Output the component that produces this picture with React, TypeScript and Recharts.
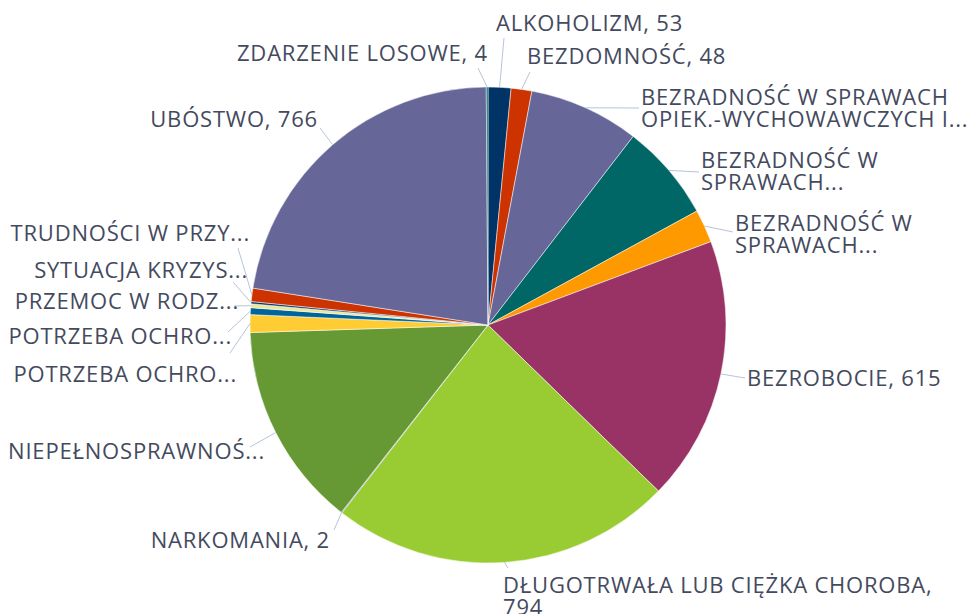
import React from 'react'
import { Cell, Pie, PieChart } from 'recharts'

// Kolejność kategorii zgodna z wykresem (zgodnie z ruchem wskazówek zegara od góry)
const categories = [
  'ALKOHOLIZM',
  'BEZDOMNOŚĆ',
  'BEZRADNOŚĆ W SPRAWACH OPIEK.-WYCHOWAWCZYCH I...',
  'BEZRADNOŚĆ W SPRAWACH... (1)',
  'BEZRADNOŚĆ W SPRAWACH... (2)',
  'BEZROBOCIE',
  'DŁUGOTRWAŁA LUB CIĘŻKA CHOROBA',
  'NARKOMANIA',
  'NIEPEŁNOSPRAWNOŚĆ',
  'POTRZEBA OCHRO... (1)',
  'POTRZEBA OCHRO... (2)',
  'PRZEMOC W RODZ...',
  'SYTUACJA KRYZYS...',
  'TRUDNOŚCI W PRZY...',
  'UBÓSTWO',
  'ZDARZENIE LOSOWE',
]

const values = [53, 48, 256, 226, 77, 615, 794, 2, 476, 41, 16, 9, 5, 31, 766, 4]

// tekst etykiet tak jak widać na wykresie
const labelLines = [
  ['ALKOHOLIZM, 53'],
  ['BEZDOMNOŚĆ, 48'],
  ['BEZRADNOŚĆ W SPRAWACH', 'OPIEK.-WYCHOWAWCZYCH I...'],
  ['BEZRADNOŚĆ W', 'SPRAWACH...'],
  ['BEZRADNOŚĆ W', 'SPRAWACH...'],
  ['BEZROBOCIE, 615'],
  ['DŁUGOTRWAŁA LUB CIĘŻKA CHOROBA,', '794'],
  ['NARKOMANIA, 2'],
  ['NIEPEŁNOSPRAWNOŚ...'],
  ['POTRZEBA OCHRO...'],
  ['POTRZEBA OCHRO...'],
  ['PRZEMOC W RODZ...'],
  ['SYTUACJA KRYZYS...'],
  ['TRUDNOŚCI W PRZY...'],
  ['UBÓSTWO, 766'],
  ['ZDARZENIE LOSOWE, 4'],
]

const colors = [
  '#003366', '#cc3300', '#666699', '#006666', '#ff9900', '#993366',
  '#99cc33', '#7171a8', '#669933', '#ffcc33', '#006699', '#e9e89a',
  '#003366', '#cc3300', '#666699', '#006666',
]

const chartData = categories.map((name, i) => ({ name, value: values[i] }))

// pozycje etykiet: x, linia bazowa, kotwica tekstu, koniec linii odniesienia
const labelLayout = [
  { x: 496, y: 31, anchor: 'start', lx: 504, ly: 38 },
  { x: 527, y: 64, anchor: 'start', lx: 530, ly: 72 },
  { x: 641, y: 105, anchor: 'start', lx: 639, ly: 108 },
  { x: 701, y: 168, anchor: 'start', lx: 699, ly: 172 },
  { x: 735, y: 231, anchor: 'start', lx: 733, ly: 232 },
  { x: 747, y: 386, anchor: 'start', lx: 745, ly: 378 },
  { x: 503, y: 593, anchor: 'start', lx: 508, ly: 568 },
  { x: 330, y: 548, anchor: 'end', lx: 334, ly: 530 },
  { x: 265, y: 459, anchor: 'end', lx: 250, ly: 447 },
  { x: 237, y: 382, anchor: 'end', lx: 230, ly: 353 },
  { x: 232, y: 344, anchor: 'end', lx: 228, ly: 332 },
  { x: 239, y: 309, anchor: 'end', lx: 234, ly: 306 },
  { x: 248, y: 278, anchor: 'end', lx: 233, ly: 282 },
  { x: 250, y: 241, anchor: 'end', lx: 238, ly: 248 },
  { x: 318, y: 127, anchor: 'end', lx: 320, ly: 128 },
  { x: 488, y: 61, anchor: 'end', lx: 478, ly: 68 },
]

const RADIAN = Math.PI / 180

function renderLabel(props: any) {
  const { cx, cy, midAngle, outerRadius, index } = props
  const pos = labelLayout[index]
  const ex = cx + outerRadius * Math.cos(-midAngle * RADIAN)
  const ey = cy + outerRadius * Math.sin(-midAngle * RADIAN)
  return (
    <g key={`lbl-${index}`}>
      <line x1={ex} y1={ey} x2={pos.lx} y2={pos.ly} stroke="#b7c4d9" strokeWidth={1} />
      <text
        x={pos.x}
        y={pos.y}
        textAnchor={pos.anchor}
        fill="#444a5e"
        fontSize={22}
        letterSpacing={0.8}
        fontFamily="'Open Sans', sans-serif"
      >
        {labelLines[index].map((line, j) => (
          <tspan key={j} x={pos.x} dy={j === 0 ? 0 : 22}>
            {line}
          </tspan>
        ))}
      </text>
    </g>
  )
}

export default function App() {
  return (
    <div style={{ position: 'absolute', left: 0, top: 0, width: 969, height: 614, background: '#fff' }}>
      <PieChart width={969} height={614} margin={{ top: 0, right: 0, bottom: 0, left: 0 }}>
        <Pie
          data={chartData}
          dataKey="value"
          nameKey="name"
          cx={488}
          cy={325}
          outerRadius={238}
          startAngle={90}
          endAngle={-270}
          stroke="#ffffff"
          strokeWidth={0.5}
          label={renderLabel}
          labelLine={false}
          isAnimationActive={false}
        >
          {chartData.map((d, i) => (
            <Cell key={d.name} fill={colors[i]} />
          ))}
        </Pie>
      </PieChart>
    </div>
  )
}
